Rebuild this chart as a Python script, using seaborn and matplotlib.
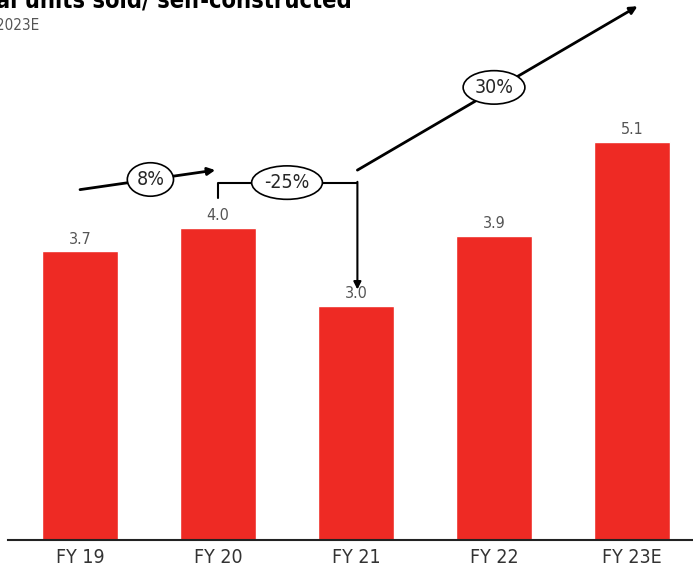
import matplotlib.pyplot as plt
import seaborn as sns
import pandas as pd

# dados
anos = ['FY 19', 'FY 20', 'FY 21', 'FY 22', 'FY 23E']
unidades = [3.7, 4.0, 3.0, 3.9, 5.1]
crescimento = ['8%', '-25%', '30%']

df = pd.DataFrame({'ano': anos, 'unidades': unidades})

sns.set_style('white')
plt.rcParams['font.family'] = ['DejaVu Sans']
plt.rcParams['font.stretch'] = 'condensed'

fig = plt.figure(figsize=(6.93, 5.75), dpi=100)
ax = fig.add_axes([8 / 693, 35 / 575, 685 / 693, 540 / 575])

sns.barplot(data=df, x='ano', y='unidades', color='#ee2a24', width=0.55,
            saturation=1, ax=ax)

ax.set_xlim(-0.522, 4.442)
ax.set_ylim(0, 6.92)
ax.set_xlabel('')
ax.set_ylabel('')
ax.set_yticks([])
for s in ['top', 'right', 'left']:
    ax.spines[s].set_visible(False)
ax.spines['bottom'].set_color('#222222')
ax.spines['bottom'].set_linewidth(1.5)
ax.tick_params(axis='x', length=0, labelsize=14, labelcolor='#333333', pad=6)

# rótulos de valor
for i, v in enumerate(unidades):
    ax.text(i, v + 0.06, f'{v:.1f}', ha='center', va='bottom',
            fontsize=11.5, color='#555555')

caixa = dict(boxstyle='ellipse,pad=0.12', fc='white', ec='black', lw=1.2)
seta = dict(arrowstyle='-|>', color='black', lw=2, mutation_scale=11,
            shrinkA=0, shrinkB=0)

# 8%
ax.annotate('', xy=(0.98, 4.74), xytext=(0.0, 4.49), arrowprops=seta)
ax.text(0.51, 4.62, crescimento[0], ha='center', va='center', fontsize=14,
        bbox=caixa)

# -25% (colchete)
ax.plot([1, 1, 2.01], [4.38, 4.58, 4.58], color='black', lw=1.5)
ax.annotate('', xy=(2.01, 3.21), xytext=(2.01, 4.59),
            arrowprops=dict(seta, lw=1.5))
ax.text(1.5, 4.58, crescimento[1], ha='center', va='center', fontsize=14,
        bbox=caixa)

# 30%
ax.annotate('', xy=(4.04, 6.84), xytext=(2.01, 4.74), arrowprops=seta)
ax.text(3.0, 5.8, crescimento[2], ha='center', va='center', fontsize=14,
        bbox=caixa)

# título cortado no topo
fig.text(352 / 693, 1 - 8 / 575, 'Annual units sold/ self-constructed',
         ha='right', va='baseline', fontsize=17, fontweight='bold', color='black')
fig.text(40 / 693, 1 - 30 / 575, 'FY2019-2023E', ha='right', va='baseline',
         fontsize=11, color='#555555')

fig.savefig('out.png', dpi=100)
plt.close()
